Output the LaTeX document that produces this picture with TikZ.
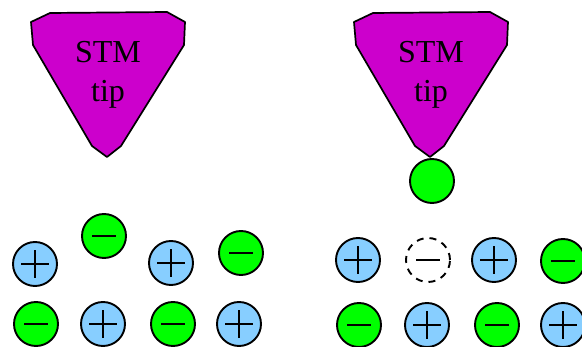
\documentclass[tikz,border=0pt]{standalone}
\usepackage{fontspec}
\setmainfont{Liberation Serif}
\usepackage{tikz}

\definecolor{tipmag}{RGB}{204,0,204}
\definecolor{iongreen}{RGB}{0,255,0}
\definecolor{ionblue}{RGB}{135,206,255}

\begin{document}
\begin{tikzpicture}[x=1pt,y=-1pt,line width=1.9pt,
  ion/.style={circle,draw,inner sep=0pt,minimum size=44pt},
  plusion/.style={ion,fill=ionblue,path picture={
      \draw (path picture bounding box.center) +(-14pt,0) -- +(14pt,0)
            (path picture bounding box.center) +(0,-14pt) -- +(0,14pt);}},
  minusion/.style={ion,fill=iongreen,path picture={
      \draw (path picture bounding box.center) +(-12pt,0) -- +(12pt,0);}},
  hole/.style={ion,dashed,dash pattern=on 7pt off 6pt,path picture={
      \draw[solid,line width=1.5pt] (path picture bounding box.center) +(-12pt,0) -- +(12pt,0);}},
  tiplabel/.style={anchor=base,font=\fontsize{32}{32}\selectfont}]
  \useasboundingbox (0,0) rectangle (582,347);

  % the two tips
  \foreach \sx/\nm in {0/l,323/r}{
    \begin{scope}[xshift=\sx pt]
      \draw[fill=tipmag,line width=1.7pt,line join=round]
        (31,22) -- (50,13) -- (167,12) -- (185,22) -- (184,45)
        -- (121,146) -- (107,157) -- (92,146) -- (33,45) -- cycle;
      \node[tiplabel] (stm\nm) at (108,63) {STM};
      \node[tiplabel] (tip\nm) at (108,102) {tip};
    \end{scope}
  }

  % picked up atom
  \node[ion,fill=iongreen] (atom) at (432,181) {};

  % surface before
  \node[plusion]  (p1) at (35,264) {};
  \node[minusion] (n1) at (104,236) {};
  \node[plusion]  (p2) at (171,263) {};
  \node[minusion] (n2) at (241,253) {};
  \node[minusion] (n3) at (36,324) {};
  \node[plusion]  (p3) at (103,324) {};
  \node[minusion] (n4) at (173,324) {};
  \node[plusion]  (p4) at (239,324) {};

  % surface after
  \node[plusion]  (p5) at (358,260) {};
  \node[hole]     (v)  at (428,260) {};
  \node[plusion]  (p6) at (494,260) {};
  \node[minusion] (n5) at (563,261) {};
  \node[minusion] (n6) at (359,325) {};
  \node[plusion]  (p7) at (427,325) {};
  \node[minusion] (n7) at (497,325) {};
  \node[plusion]  (p8) at (563,325) {};
\end{tikzpicture}
\end{document}
